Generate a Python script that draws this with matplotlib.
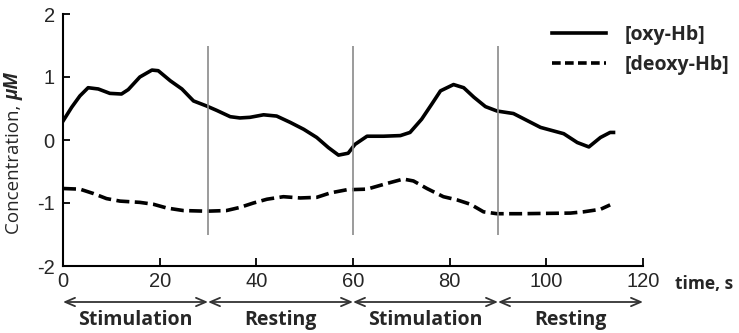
import matplotlib
matplotlib.use("Agg")
import matplotlib.pyplot as plt
from matplotlib.lines import Line2D

# Haemoglobin concentration changes over a block-design session
t_oxy = [0, 1.8, 3.5, 5.2, 7.3, 9.7, 12.1, 13.5, 15.9, 18.4,
         19.7, 22.2, 24.6, 27, 29.7, 31.8, 34.6, 36.6, 38.7, 41.5,
         44.2, 47, 49.8, 52.5, 54.9, 57, 59, 60.4, 62.9, 66.3,
         69.8, 71.8, 74.2, 76.3, 78.1, 80.8, 82.9, 85, 87.4, 89.8,
         93.2, 96, 98.8, 101.2, 103.6, 106.4, 108.8, 111.2, 113.2, 113.9]
oxy_hb = [0.30, 0.52, 0.70, 0.83, 0.81, 0.74, 0.73, 0.80, 1.00, 1.11,
          1.10, 0.94, 0.81, 0.62, 0.54, 0.47, 0.37, 0.35, 0.36, 0.40,
          0.38, 0.28, 0.17, 0.04, -0.12, -0.24, -0.21, -0.07, 0.06, 0.06,
          0.07, 0.12, 0.33, 0.57, 0.78, 0.88, 0.83, 0.68, 0.53, 0.46,
          0.42, 0.31, 0.20, 0.15, 0.10, -0.04, -0.11, 0.04, 0.12, 0.12]

t_deoxy = [0, 3.5, 6.3, 9.0, 11.8, 15.9, 18.7, 21.5, 24.9, 29.7,
           33.8, 36.6, 39.4, 42.2, 45.6, 49.1, 52.5, 55.3, 58.7, 62.9,
           67, 70.4, 72.5, 75.3, 78.7, 81.5, 84.3, 87.0, 89.8, 94.6,
           105, 107.7, 111.2, 113.2]
deoxy_hb = [-0.77, -0.78, -0.85, -0.93, -0.97, -0.99, -1.02, -1.08, -1.12, -1.13,
            -1.12, -1.07, -1.00, -0.94, -0.90, -0.92, -0.91, -0.84, -0.79, -0.78,
            -0.69, -0.62, -0.65, -0.77, -0.90, -0.95, -1.02, -1.14, -1.17, -1.17,
            -1.16, -1.14, -1.10, -1.03]

# Task blocks (start, end, label) and block boundaries
blocks = [(0, 30, "Stimulation"), (30, 60, "Resting"),
          (60, 90, "Stimulation"), (90, 120, "Resting")]
boundaries = [30, 60, 90]

x_ticks = [0, 20, 40, 60, 80, 100, 120]
y_ticks = [-2, -1, 0, 1, 2]

W, H = 739, 333
fig = plt.figure(figsize=(W / 100, H / 100), dpi=100)
ax = fig.add_axes([63 / W, 1 - 266 / H, (643 - 63) / W, (266 - 14) / H])

tick_font = dict(family="Liberation Sans", size=14.5)
label_font = ["Open Sans", "DejaVu Sans"]
txt_color = "#262626"

ax.plot(t_oxy, oxy_hb, color="black", lw=2.6, solid_joinstyle="round")
ax.plot(t_deoxy, deoxy_hb, color="black", lw=2.6, dashes=(3.6, 1.5))

for b in boundaries:
    ax.vlines(b, -1.5, 1.5, color="#8a8a8a", lw=1.2)

ax.set_xlim(0, 120)
ax.set_ylim(-2, 2)
ax.set_xticks(x_ticks)
ax.set_yticks(y_ticks)
ax.set_xticklabels([str(v) for v in x_ticks], fontdict=tick_font, color=txt_color)
ax.set_yticklabels([str(v) for v in y_ticks], fontdict=tick_font, color=txt_color)
ax.tick_params(axis="x", direction="in", length=6, width=1.3, pad=4)
ax.tick_params(axis="y", direction="in", length=5, width=1.3, pad=6)
for side in ("top", "right"):
    ax.spines[side].set_visible(False)
for side in ("left", "bottom"):
    ax.spines[side].set_linewidth(1.5)

# y-axis label: plain text followed by a bold italic unit
ylab = fig.text(14 / W, 1 - 234 / H, "Concentration, ", rotation=90,
                ha="center", va="bottom", fontsize=13.5, family=label_font,
                color=txt_color)
fig.canvas.draw()
top_px = ylab.get_window_extent().y1
fig.text(14 / W, top_px / H, "μM", rotation=90, ha="center", va="bottom",
         fontsize=13.5, family=label_font, weight="bold", style="italic",
         color=txt_color)

fig.text(675 / W, 1 - 284 / H, "time, s", ha="left", va="center",
         fontsize=12.5, family=label_font, weight="bold", color=txt_color)

# Block arrows and labels under the time axis
for start, end, name in blocks:
    ax.annotate("", xy=(end, 1 - 302 / H), xytext=(start, 1 - 302 / H),
                xycoords=("data", "figure fraction"),
                textcoords=("data", "figure fraction"),
                arrowprops=dict(arrowstyle="<->,head_length=0.7,head_width=0.3",
                                color="#333333", lw=1.3,
                                shrinkA=0, shrinkB=0),
                annotation_clip=False)
    ax.annotate(name, xy=((start + end) / 2, 1 - 320 / H),
                xycoords=("data", "figure fraction"), ha="center", va="center",
                fontsize=14, family=label_font, weight="bold",
                color=txt_color, annotation_clip=False)

handles = [Line2D([], [], color="black", lw=2.6),
           Line2D([], [], color="black", lw=2.6, dashes=(2.4, 1.2))]
leg = fig.legend(handles, ["[oxy-Hb]", "[deoxy-Hb]"], loc="upper left",
                 bbox_to_anchor=(552 / W, 1 - 25 / H), frameon=False,
                 handlelength=2.8, handletextpad=0.95, labelspacing=0.5,
                 borderpad=0, borderaxespad=0,
                 prop=dict(family=label_font, weight="bold", size=14))
for t in leg.get_texts():
    t.set_color(txt_color)

fig.savefig("out.png", dpi=100)
